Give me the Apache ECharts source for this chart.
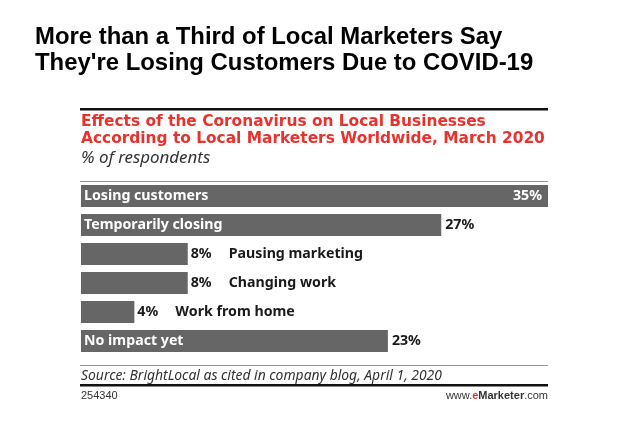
<!DOCTYPE html>
<html>
<head>
<meta charset="utf-8">
<script src="https://cdn.jsdelivr.net/npm/echarts@6/dist/echarts.min.js"></script>
<style>
html,body{margin:0;padding:0;background:#fff;}
#c{width:634px;height:432px;}
</style>
</head>
<body>
<div id="c"></div>
<script>
const categories = ["Losing customers", "Temporarily closing", "Pausing marketing", "Changing work", "Work from home", "No impact yet"];
const values = [35, 27, 8, 8, 4, 23];
const maxValue = 35;

const titleLines = ["More than a Third of Local Marketers Say", "They're Losing Customers Due to COVID-19"];
const subtitleLines = ["Effects of the Coronavirus on Local Businesses", "According to Local Marketers Worldwide, March 2020"];
const unitText = "% of respondents";
const sourceText = "Source: BrightLocal as cited in company blog, April 1, 2020";
const chartId = "254340";

const SUB_FONT = "'DejaVu Sans', sans-serif";
const BAR_FONT = "'Noto Sans', 'DejaVu Sans', sans-serif";
const TITLE_FONT = "'Liberation Sans', Arial, sans-serif";
const insideThreshold = 20;

// measure-based font fitting so text spans the same width as in the reference
const cv = document.createElement('canvas').getContext('2d');
function fitSize(text, style, family, target) {
  cv.font = style + ' 100px ' + family;
  const w = cv.measureText(text).width;
  return Math.round(100 * target / w * 10) / 10;
}
const titleSize = fitSize(titleLines[0], 'bold', TITLE_FONT, 467);
const subSize = fitSize(subtitleLines[0], 'bold', SUB_FONT, 404);
const unitSize = fitSize(unitText, 'italic', "'Noto Sans', sans-serif", 129);
const srcSize = fitSize(sourceText, 'italic', "'Noto Sans', sans-serif", 361);
const barSize = fitSize(categories[0], 'bold', BAR_FONT, 125);

const chart = echarts.init(document.getElementById('c'), null, {renderer: 'canvas'});

const mainData = values.map((v, i) => {
  const inside = v >= insideThreshold;
  return {
    value: v,
    name: categories[i],
    label: inside ? {
      show: true, position: 'insideLeft', distance: 3,
      formatter: '{b}', color: '#ffffff',
      fontFamily: BAR_FONT, fontWeight: 'bold', fontSize: barSize
    } : {
      show: true, position: 'right', distance: 3,
      formatter: p => '{v|' + p.value + '%}{n|' + p.name + '}',
      rich: {
        v: {width: 38, color: '#1a1a1a', fontFamily: BAR_FONT, fontWeight: 'bold', fontSize: barSize},
        n: {color: '#1a1a1a', fontFamily: BAR_FONT, fontWeight: 'bold', fontSize: barSize}
      }
    }
  };
});

const valueData = values.map((v, i) => {
  const inside = v >= insideThreshold;
  const isMax = v === maxValue;
  return {
    value: v,
    label: inside ? {
      show: true,
      position: isMax ? 'insideRight' : 'right',
      distance: isMax ? 6 : 4,
      formatter: '{c}%',
      color: isMax ? '#ffffff' : '#1a1a1a',
      fontFamily: BAR_FONT, fontWeight: 'bold', fontSize: barSize
    } : {show: false}
  };
});

function txt(x, y, text, font, extra) {
  return {type: 'text', x: x, y: y, style: Object.assign({text: text, fontFamily: font, verticalAlign: 'middle', align: 'left'}, extra)};
}

const graphics = [
  txt(35, 37, titleLines[0], TITLE_FONT, {fontWeight: 'bold', fontSize: titleSize, fill: '#000'}),
  txt(35, 63.5, titleLines[1], TITLE_FONT, {fontWeight: 'bold', fontSize: titleSize, fill: '#000'}),
  {type: 'rect', shape: {x: 80, y: 108, width: 468, height: 2.5}, style: {fill: '#111'}},
  txt(81, 122, subtitleLines[0], SUB_FONT, {fontWeight: 'bold', fontSize: subSize, fill: '#e8322d'}),
  txt(81, 139, subtitleLines[1], SUB_FONT, {fontWeight: 'bold', fontSize: subSize, fill: '#e8322d'}),
  txt(81, 158, unitText, "'Noto Sans', sans-serif", {fontStyle: 'italic', fontSize: unitSize, fill: '#333'}),
  {type: 'rect', shape: {x: 80, y: 181, width: 468, height: 1}, style: {fill: '#999'}},
  {type: 'rect', shape: {x: 80, y: 365, width: 468, height: 1}, style: {fill: '#999'}},
  txt(81, 376, sourceText, "'Noto Sans', sans-serif", {fontStyle: 'italic', fontSize: srcSize, fill: '#333'}),
  {type: 'rect', shape: {x: 80, y: 384, width: 468, height: 2.5}, style: {fill: '#111'}},
  txt(81, 396, chartId, TITLE_FONT, {fontSize: 11, fill: '#333'}),
  {type: 'text', x: 548, y: 396, style: {
    text: '{a|www.}{e|e}{m|Marketer}{a|.com}',
    align: 'right', verticalAlign: 'middle',
    rich: {
      a: {fontFamily: TITLE_FONT, fontSize: 11, fill: '#333'},
      e: {fontFamily: TITLE_FONT, fontSize: 11, fontWeight: 'bold', fill: '#e8322d'},
      m: {fontFamily: TITLE_FONT, fontSize: 11, fontWeight: 'bold', fill: '#333'}
    }
  }}
];

chart.setOption({
  animation: false,
  backgroundColor: '#fff',
  grid: {left: 81, right: 86, top: 181.5, height: 174, containLabel: false},
  xAxis: {type: 'value', min: 0, max: maxValue, show: false},
  yAxis: {type: 'category', data: categories, inverse: true, show: false},
  graphic: graphics,
  series: [
    {type: 'bar', data: mainData, barWidth: 22, itemStyle: {color: '#666666'}, z: 2},
    {type: 'bar', data: valueData, barWidth: 22, barGap: '-100%', itemStyle: {color: 'rgba(0,0,0,0)'}, z: 3}
  ]
});
</script>
</body>
</html>
